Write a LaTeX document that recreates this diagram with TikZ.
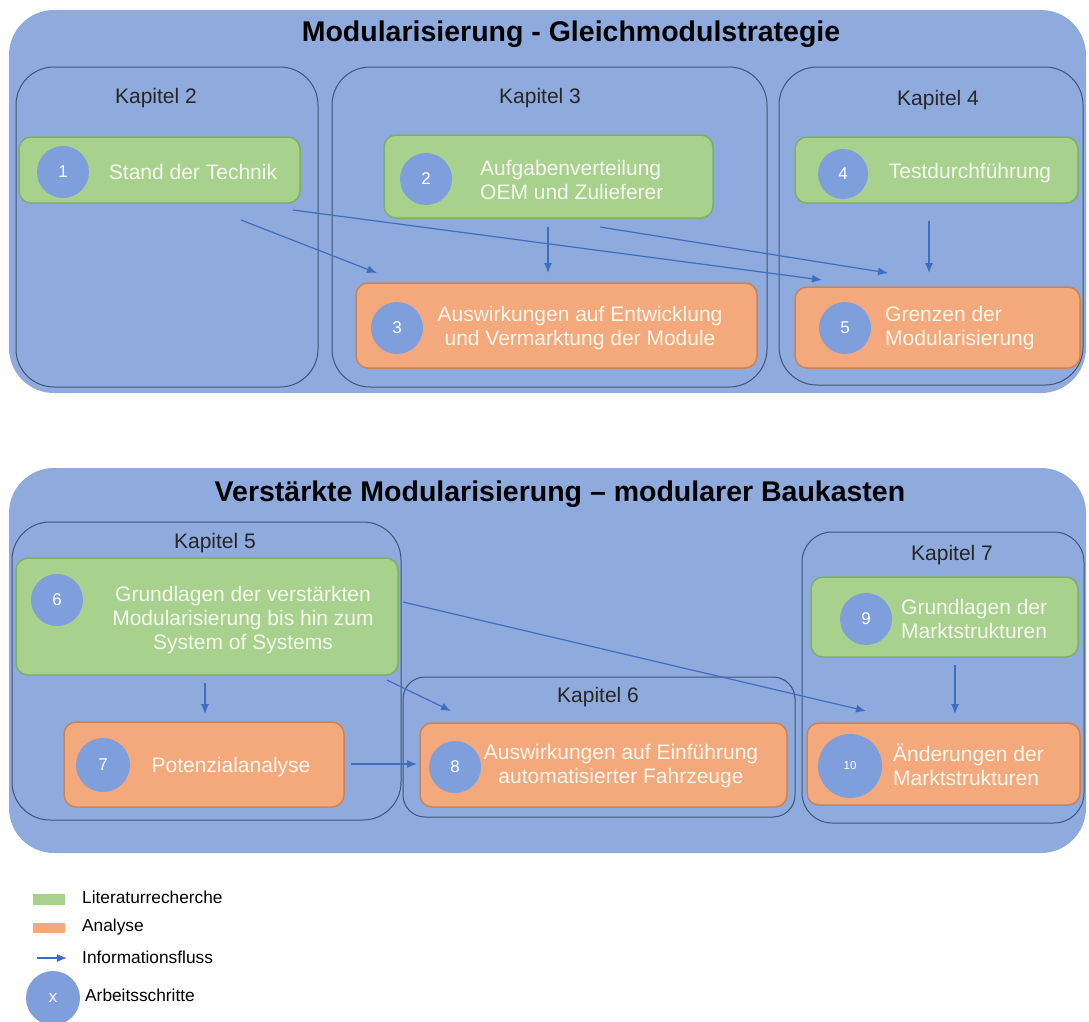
\documentclass[tikz,border=0pt]{standalone}
\usepackage{fontspec}
\setmainfont{Liberation Sans}
\usetikzlibrary{arrows.meta}
\definecolor{bgblue}{HTML}{8FAADC}
\definecolor{kapline}{HTML}{3D5578}
\definecolor{grfill}{HTML}{A9D18E}
\definecolor{grline}{HTML}{7DAF66}
\definecolor{orfill}{HTML}{F4A97C}
\definecolor{orline}{HTML}{C98358}
\definecolor{circ}{HTML}{7F9EDC}
\definecolor{arr}{HTML}{3F6EC0}
\definecolor{txtw}{HTML}{F4F8EE}
\begin{document}
\begin{tikzpicture}[x=1pt,y=-1pt,
 outerbox/.style={fill=bgblue, rounded corners=45pt, inner sep=0},
 kapbox/.style={draw=kapline, line width=1pt, rounded corners=38pt, inner sep=0},
 litbox/.style={fill=grfill, draw=grline, line width=1.5pt, rounded corners=12pt, inner sep=0},
 anabox/.style={fill=orfill, draw=orline, line width=1.5pt, rounded corners=12pt, inner sep=0},
 stepcirc/.style={circle, fill=circ, text=white, inner sep=0, font=\fontsize{17}{17}\selectfont},
 boxtext/.style={text=txtw, font=\fontsize{21}{24}\selectfont, inner sep=0, align=center},
 kaptext/.style={font=\fontsize{21}{24}\selectfont, text=black!85, inner sep=0},
 titletext/.style={font=\fontsize{28.5}{30}\selectfont\bfseries, inner sep=0},
 flow/.style={draw=arr, line width=1.2pt, -{Latex[length=10pt,width=8pt]}},
 legtext/.style={font=\fontsize{17.3}{19}\selectfont, anchor=west, inner sep=0},
]
\useasboundingbox[fill=white] (0,0) rectangle (1089,1021);

% ---------- top part ----------
\node[outerbox, minimum width=1077pt, minimum height=383pt] (top) at (547.5,201.5) {};
\node[titletext] (toptitle) at (571,34) {Modularisierung - Gleichmodulstrategie};

\node[kapbox, minimum width=302pt, minimum height=320pt] (k2) at (167,227) {};
\node[kapbox, minimum width=435pt, minimum height=320pt] (k3) at (549.5,227) {};
\node[kapbox, minimum width=304pt, minimum height=318pt] (k4) at (931,226) {};
\node[kaptext] (k2l) at (156,98) {Kapitel 2};
\node[kaptext] (k3l) at (540,98) {Kapitel 3};
\node[kaptext] (k4l) at (938,100) {Kapitel 4};

\node[litbox, minimum width=281pt, minimum height=66pt] (b1) at (159.5,170) {};
\node[litbox, minimum width=329pt, minimum height=83pt] (b2) at (548.5,176.5) {};
\node[anabox, minimum width=401pt, minimum height=85pt] (b3) at (556.5,325.5) {};
\node[litbox, minimum width=283pt, minimum height=66pt] (b4) at (936.5,170) {};
\node[anabox, minimum width=285pt, minimum height=81pt] (b5) at (937.5,327.5) {};

\node[stepcirc, minimum size=52pt] (c1) at (63,172) {1};
\node[stepcirc, minimum size=52pt] (c2) at (426,179) {2};
\node[stepcirc, minimum size=52pt] (c3) at (397,328) {3};
\node[stepcirc, minimum size=50pt] (c4) at (843,174) {4};
\node[stepcirc, minimum size=52pt] (c5) at (845,328) {5};

\node[boxtext] (t1) at (193,172) {Stand der Technik};
\node[boxtext, align=left, anchor=west] (t2) at (480,180) {Aufgabenverteilung\\OEM und Zulieferer};
\node[boxtext] (t3) at (580,328) {Auswirkungen auf Entwicklung\\und Vermarktung der Module};
\node[boxtext] (t4) at (970,173) {Testdurchführung};
\node[boxtext, align=left, anchor=west] (t5) at (885,328) {Grenzen der\\Modularisierung};

\coordinate (a1s) at (241,220);
\coordinate (a1e) at (377,273);
\coordinate (a2s) at (293,210);
\coordinate (a2e) at (822,280);
\coordinate (a3s) at (548,227);
\coordinate (a3e) at (548,273);
\coordinate (a4s) at (600,227);
\coordinate (a4e) at (888,273);
\coordinate (a5s) at (929,221);
\coordinate (a5e) at (929,273);
\draw[flow] (a1s) -- (a1e);
\draw[flow] (a2s) -- (a2e);
\draw[flow] (a3s) -- (a3e);
\draw[flow] (a4s) -- (a4e);
\draw[flow] (a5s) -- (a5e);

% ---------- bottom part ----------
\node[outerbox, minimum width=1077pt, minimum height=385pt] (bot) at (547.5,660.5) {};
\node[titletext] (bottitle) at (560,494) {Verstärkte Modularisierung – modularer Baukasten};

\node[kapbox, minimum width=389pt, minimum height=298pt] (k5) at (206.5,671) {};
\node[kapbox, rounded corners=22pt, minimum width=392pt, minimum height=140pt] (k6) at (599,747) {};
\node[kapbox, rounded corners=30pt, minimum width=282pt, minimum height=291pt] (k7) at (943,677.5) {};
\node[kaptext] (k5l) at (215,543) {Kapitel 5};
\node[kaptext] (k6l) at (598,697) {Kapitel 6};
\node[kaptext] (k7l) at (952,555) {Kapitel 7};

\node[litbox, minimum width=382pt, minimum height=117pt] (b6) at (207,616.5) {};
\node[anabox, minimum width=280pt, minimum height=85pt] (b7) at (204,764.5) {};
\node[anabox, minimum width=367pt, minimum height=84pt] (b8) at (603.5,765) {};
\node[litbox, minimum width=267pt, minimum height=80pt] (b9) at (944.5,617) {};
\node[anabox, minimum width=273pt, minimum height=82pt] (b10) at (943.5,764) {};

\node[stepcirc, minimum size=52pt] (c6) at (57,600) {6};
\node[stepcirc, minimum size=54pt] (c7) at (103,765) {7};
\node[stepcirc, minimum size=52pt] (c8) at (455,767) {8};
\node[stepcirc, minimum size=52pt] (c9) at (866,619) {9};
\node[stepcirc, minimum size=64pt, font=\fontsize{11.5}{11.5}\selectfont] (c10) at (850,766) {10};

\node[boxtext] (t6) at (243,620) {Grundlagen der verstärkten\\Modularisierung bis hin zum\\System of Systems};
\node[boxtext] (t7) at (231,767) {Potenzialanalyse};
\node[boxtext] (t8) at (621,766) {Auswirkungen auf Einführung\\automatisierter Fahrzeuge};
\node[boxtext, align=left, anchor=west] (t9) at (901,619) {Grundlagen der\\Marktstrukturen};
\node[boxtext, align=left, anchor=west] (t10) at (893,765) {Änderungen der\\Marktstrukturen};

\coordinate (b1s) at (205,683);
\coordinate (b1e) at (205,714);
\coordinate (b2s) at (387,680);
\coordinate (b2e) at (451,711);
\coordinate (b3s) at (403,602);
\coordinate (b3e) at (866,711);
\coordinate (b4s) at (955,665);
\coordinate (b4e) at (955,714);
\coordinate (b5s) at (351,764);
\coordinate (b5e) at (417,764);
\draw[flow] (b1s) -- (b1e);
\draw[flow] (b2s) -- (b2e);
\draw[flow] (b3s) -- (b3e);
\draw[flow] (b4s) -- (b4e);
\draw[flow] (b5s) -- (b5e);

% ---------- legend ----------
\node[fill=grfill, inner sep=0, minimum width=32pt, minimum height=11pt] (lg1) at (49,899) {};
\node[legtext] (lt1) at (82,897) {Literaturrecherche};
\node[fill=orfill, inner sep=0, minimum width=32pt, minimum height=10pt] (lg2) at (49,928) {};
\node[legtext] (lt2) at (82,927) {Analyse};
\coordinate (la1) at (37,958);
\coordinate (la2) at (67,958);
\draw[flow] (la1) -- (la2);
\node[legtext] (lt3) at (82,957) {Informationsfluss};
\node[stepcirc, minimum size=54pt] (lc) at (53,998) {x};
\node[legtext] (lt4) at (85,995) {Arbeitsschritte};
\end{tikzpicture}
\end{document}
